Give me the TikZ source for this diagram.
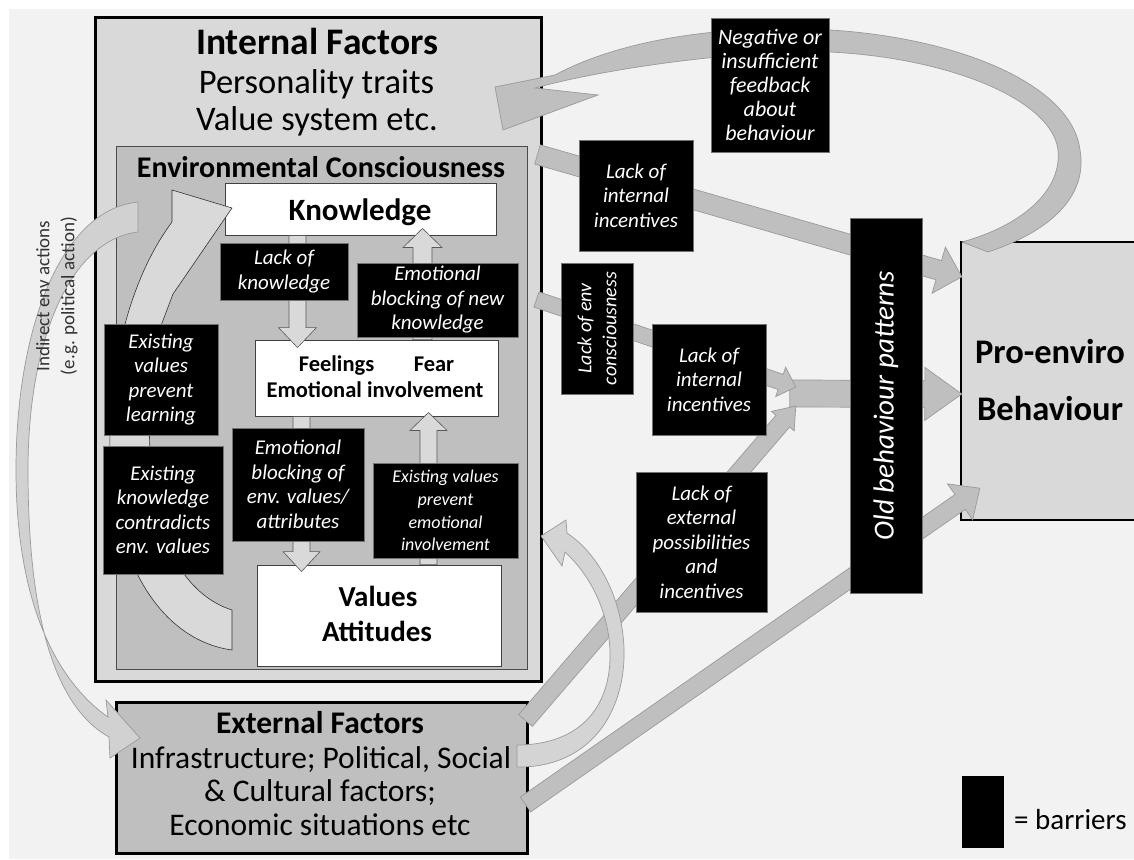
\documentclass[tikz,border=0pt]{standalone}
\usepackage{fontspec}
\setmainfont{Carlito}
\usetikzlibrary{calc}

\definecolor{canvas}{HTML}{F2F2F2}
\definecolor{panel}{HTML}{D9D9D9}
\definecolor{panelmid}{HTML}{BFBFBF}
\definecolor{bandfill}{HTML}{BFBFBF}
\definecolor{bandline}{HTML}{9A9A9A}
\definecolor{palefill}{HTML}{D9D9D9}

\newcommand\fs[2]{\fontsize{#1}{#2}\selectfont}

% straight block arrow: [style]{start}{tip}{half shaft}{half head}{head length}
\newcommand\blockarrow[6][]{%
  \coordinate (ba-s) at #2;
  \coordinate (ba-t) at #3;
  \coordinate (ba-h) at ($(ba-t)!#6!(ba-s)$);
  \path[#1] ($(ba-s)!#4!90:(ba-t)$) -- ($(ba-h)!#4!90:(ba-t)$) -- ($(ba-h)!#5!90:(ba-t)$) -- (ba-t)
     -- ($(ba-h)!#5!-90:(ba-t)$) -- ($(ba-h)!#4!-90:(ba-t)$) -- ($(ba-s)!#4!-90:(ba-t)$) -- cycle;
}

\begin{document}
\begin{tikzpicture}[x=1pt,y=-1pt,
  barrier/.style={fill=black, draw=black!55, line width=0.5pt, text=white, align=center,
                  inner sep=0pt, font=\itshape\fs{21}{24.5}},
  whitebox/.style={fill=white, draw=black!75, line width=0.9pt, inner sep=0pt},
  band/.style={fill=bandfill, draw=bandline, line width=0.7pt},
  inner arrow/.style={fill=palefill, draw=black!65, line width=0.6pt},
  curl/.style={fill=palefill, draw=black!80, line width=0.6pt},
  lbl/.style={inner sep=0pt, anchor=base},
]
\useasboundingbox (0,0) rectangle (1134,859);
\fill[white] (0,0) rectangle (1134,859);
\fill[canvas] (9,9) rectangle (1134,859);

% ---------- internal factors ----------
\node[fill=panel, draw=black, line width=3pt, minimum width=446pt, minimum height=663pt, inner sep=0pt] (int) at (318,349.5) {};
\node[fill=panelmid, draw=black!70, line width=0.9pt, minimum width=411pt, minimum height=523pt, inner sep=0pt] (env) at (321.5,407.5) {};
\node[lbl, font=\bfseries\fs{37.5}{40}] (intT) at (317,55) {Internal Factors};
\node[lbl, font=\fs{34.5}{38}] (intA) at (316.5,93) {Personality traits};
\node[lbl, font=\fs{34.5}{38}] (intB) at (317,130) {Value system etc.};
\node[lbl, font=\bfseries\fs{30}{32}] (envT) at (321,177) {Environmental Consciousness};

\node[whitebox, minimum width=271pt, minimum height=52pt] (know) at (360.5,209) {};
\node[lbl, font=\bfseries\fs{31}{32}] (knowT) at (360,220) {Knowledge};
\node[whitebox, minimum width=243pt, minimum height=76pt] (feel) at (376.5,378) {};
\node[lbl, font=\bfseries\fs{22.5}{24}] (feelA) at (336.5,371) {Feelings};
\node[lbl, font=\bfseries\fs{22.5}{24}] (feelB) at (434,371) {Fear};
\node[lbl, font=\bfseries\fs{22.5}{24}] (feelC) at (375,397) {Emotional involvement};
\node[whitebox, minimum width=244pt, minimum height=101pt] (val) at (379,615.5) {};
\node[lbl, font=\bfseries\fs{29}{30}] (valA) at (378,606) {Values};
\node[lbl, font=\bfseries\fs{29}{30}] (valB) at (377,641) {Attitudes};

% curved arrow: existing values back towards knowledge
\path[curl] (232,650) .. controls (160,640) and (112,560) .. (110,450)
  .. controls (108,380) and (125,285) .. (172,222) -- (172,190) -- (232,208) -- (173,294) -- (162,323)
  .. controls (150,360) and (148,410) .. (150,450) .. controls (152,540) and (185,595) .. (232,610) -- cycle;

% arrows between knowledge, feelings and values
\blockarrow[inner arrow]{($(know.south)+(-63,0)$)}{($(feel.north)+(-79,8)$)}{8.5pt}{19pt}{20pt}
\blockarrow[inner arrow]{($(feel.north)+(46,0)$)}{($(know.south)+(62,-7)$)}{9.5pt}{19.5pt}{19pt}
\blockarrow[inner arrow]{($(feel.south)+(-75,0)$)}{($(val.north)+(-77.5,7)$)}{8.5pt}{18.5pt}{20pt}
\blockarrow[inner arrow]{($(val.north)+(49.5,0)$)}{($(feel.south)+(52,-4)$)}{8.5pt}{18.5pt}{18pt}

% ---------- external factors ----------
\node[fill=panelmid, draw=black, line width=3pt, minimum width=411pt, minimum height=151pt, inner sep=0pt] (ext) at (321.5,777.5) {};
\node[lbl, font=\bfseries\fs{31.5}{33}] (extT) at (320,733) {External Factors};
\node[lbl, font=\fs{31.5}{33}] (extA) at (321,768) {Infrastructure; Political, Social};
\node[lbl, font=\fs{31.5}{33}] (extB) at (320,801) {\& Cultural factors;};
\node[lbl, font=\fs{31.5}{33}] (extC) at (320,835) {Economic situations etc};

% ---------- behaviour ----------
\node[fill=panel, minimum width=173pt, minimum height=278pt, inner sep=0pt] (pro) at (1047.5,381) {};
\draw[line width=2.5pt] (pro.north east) -- (pro.north west) -- (pro.south west) -- (pro.south east);
\node[lbl, font=\bfseries\fs{34.5}{36}] (proA) at (1050,363) {Pro-enviro};
\node[lbl, font=\bfseries\fs{34.5}{36}] (proB) at (1050,420) {Behaviour};

% ---------- paths towards behaviour ----------
\coordinate (merge) at ($(pro.west)+(-171,12.5)$);
\blockarrow[band]{(merge)}{($(pro.west)+(1,13)$)}{13.5pt}{26.5pt}{37pt}
\blockarrow[band]{($(int.east)+(-5,-195)$)}{($(pro.north west)+(1,35)$)}{10pt}{24pt}{24pt}
\blockarrow[band]{($(int.east)+(-6,-50)$)}{($(merge)+(6,-6.5)$)}{8pt}{15.5pt}{16pt}
\blockarrow[band]{($(ext.north east)+(-3,20)$)}{($(merge)+(6,12.5)$)}{9pt}{15pt}{20pt}
\blockarrow[band]{($(ext.east)+(-3,27)$)}{($(pro.south west)+(19,-32)$)}{9pt}{22pt}{24pt}

% external factors feeding back into internal factors
\path[band, fill=palefill!80!bandfill] (517,767) .. controls (590,768) and (626,712) .. (624,648)
  .. controls (622,600) and (600,555) .. (567,533) -- (566,520) -- (541,536) -- (562,566) -- (565,552)
  .. controls (590,575) and (608,610) .. (610,650) .. controls (612,712) and (575,745) .. (517,745) -- cycle;

% feedback from behaviour to internal factors
\path[band] (988,252) .. controls (1060,228) and (1087,190) .. (1080,150)
  .. controls (1072,85) and (960,38) .. (830,30)
  .. controls (720,24) and (620,40) .. (555,75)
  -- (495,87) -- (503,130) -- (598,95) -- (535,88)
  .. controls (600,70) and (730,50) .. (830,52)
  .. controls (950,58) and (1052,100) .. (1058,150)
  .. controls (1062,192) and (1020,226) .. (962,242) -- cycle;

% indirect actions from environmental consciousness to external factors
\path[band, fill=palefill!70!bandfill] (138,202) .. controls (60,210) and (16,330) .. (16,470)
  .. controls (16,600) and (55,680) .. (108,717)
  -- (106,700) -- (140,738) -- (110,758) -- (109,737)
  .. controls (52,705) and (28,610) .. (28,470) .. controls (28,340) and (70,240) .. (138,232) -- cycle;
\node[rotate=90, align=center, font=\fs{19}{25}, text=black!80, inner sep=0pt] (indT) at (57,296)
  {Indirect env actions\\(e.g. political action)};

% ---------- barriers ----------
\node[barrier, minimum width=128pt, minimum height=57pt] (lk) at (284,271.5) {Lack of\\knowledge};
\node[barrier, minimum width=161pt, minimum height=74pt] (ebnk) at (437.5,300) {Emotional\\blocking of new\\knowledge};
\node[barrier, minimum width=114pt, minimum height=111pt] (evpl) at (161,379.5) {Existing\\values\\prevent\\learning};
\node[barrier, minimum width=120pt, minimum height=128pt] (ekc) at (163,510) {Existing\\knowledge\\contradicts\\env. values};
\node[barrier, minimum width=132pt, minimum height=113pt] (ebev) at (298,484.5) {Emotional\\blocking of\\env. values/\\attributes};
\node[barrier, minimum width=145pt, minimum height=95pt, font=\itshape\fs{18}{22.7}] (evpe) at (445.5,510.5) {Existing values\\prevent\\emotional\\involvement};

\node[barrier, minimum width=118pt, minimum height=134pt, font=\itshape\fs{22}{23.8}] (neg) at (770,85) {Negative or\\insufficient\\feedback\\about\\behaviour};
\node[barrier, minimum width=114pt, minimum height=111pt] (lii1) at (636,195.5) {Lack of\\internal\\incentives};
\node[barrier, minimum width=72pt, minimum height=131pt] (lec) at (597,328.5) {};
\node[rotate=90, align=center, text=white, font=\itshape\fs{20}{25}, inner sep=0pt] (lecT) at (lec.center) {Lack of env\\consciousness};
\node[barrier, minimum width=114pt, minimum height=111pt] (lii2) at (709,379.5) {Lack of\\internal\\incentives};
\node[barrier, minimum width=131pt, minimum height=140pt] (lep) at (701.5,542) {Lack of\\external\\possibilities\\and\\incentives};
\node[barrier, minimum width=72pt, minimum height=375pt] (obp) at (886,405.5) {};
\node[rotate=90, text=white, font=\itshape\fs{29}{30}, inner sep=0pt] (obpT) at (obp.center) {Old behaviour patterns};

% ---------- key ----------
\node[fill=black, minimum width=42pt, minimum height=72pt, inner sep=0pt] (key) at (983,812) {};
\node[inner sep=0pt, anchor=base west, font=\fs{29}{30}] (keyT) at (1014,829) {= barriers};
\end{tikzpicture}
\end{document}
